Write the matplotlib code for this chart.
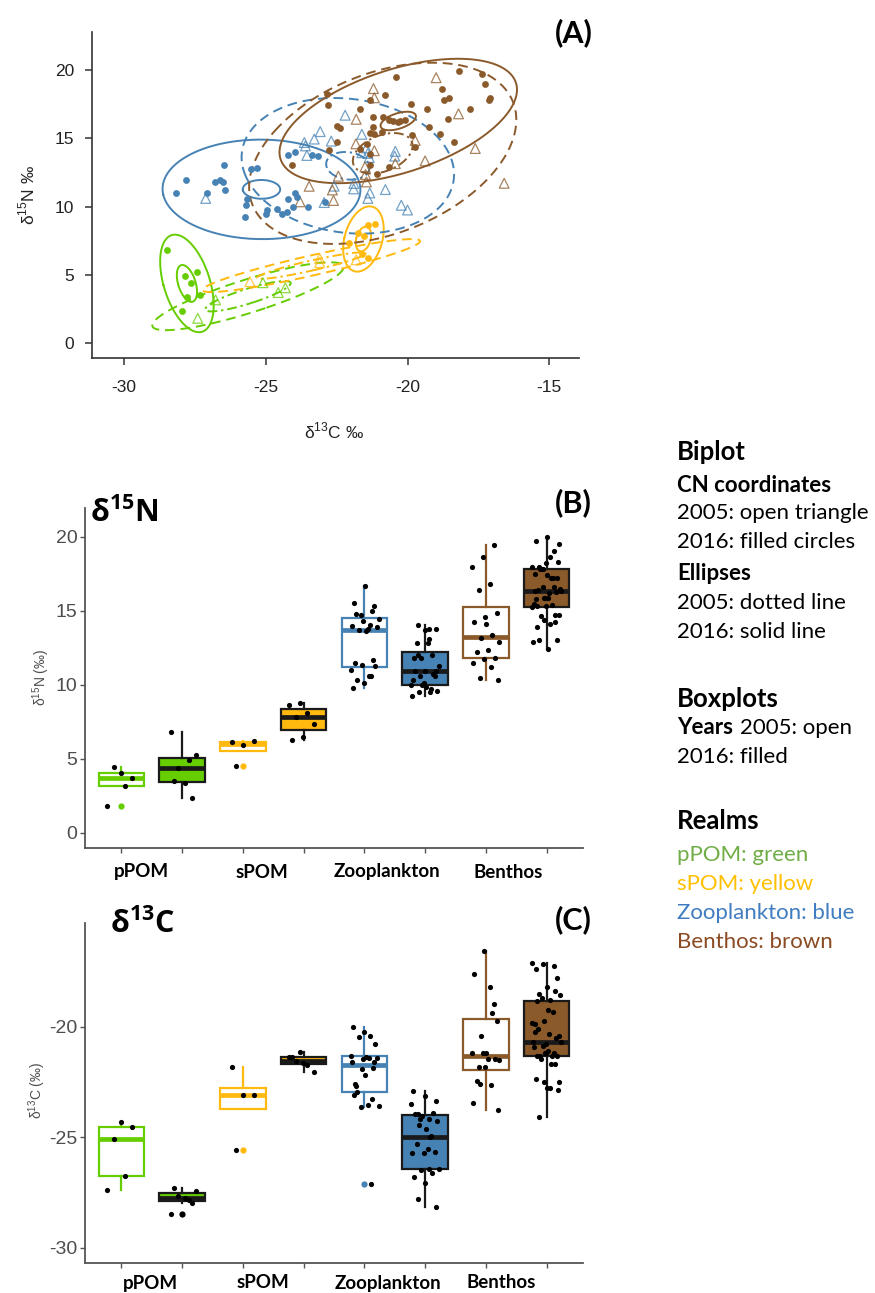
import numpy as np
import matplotlib
matplotlib.use("Agg")
import matplotlib.pyplot as plt
from matplotlib import cbook

plt.rcParams["font.family"] = ["Liberation Sans", "DejaVu Sans"]
plt.rcParams["axes.unicode_minus"] = False

# ---------------------------------------------------------------------------
# Stable isotope values (d13C, d15N) per realm and sampling year
# ---------------------------------------------------------------------------
ppom_2005_c = [-27.40, -26.77, -25.10, -24.56, -24.31]
ppom_2005_n = [1.81, 3.16, 4.42, 3.70, 4.05]

ppom_2016_c = [-28.49, -27.85, -27.65, -27.43, -27.77, -27.32, -27.96]
ppom_2016_n = [6.81, 4.93, 4.37, 5.22, 3.39, 3.51, 2.34]

spom_2005_c = [-25.56, -23.10, -23.10, -21.81]
spom_2005_n = [4.50, 6.20, 5.90, 6.10]

spom_2016_c = [-21.15, -21.38, -21.75, -21.55, -22.05, -21.62, -21.38]
spom_2016_n = [8.74, 8.63, 8.07, 7.84, 7.34, 6.49, 6.26]

zoo_2005_c = [-22.20, -23.08, -23.29, -23.64, -23.60, -23.55, -22.69, -21.61,
              -21.45, -21.61, -20.43, -20.45, -21.40, -21.35, -22.59, -21.89,
              -21.90, -21.33, -21.40, -22.94, -20.78, -20.22, -20.00, -27.12]
zoo_2005_n = [16.70, 15.50, 14.95, 14.70, 14.45, 13.75, 14.80, 15.30,
              14.30, 13.95, 14.05, 13.70, 13.90, 13.60, 11.50, 11.70,
              11.30, 11.00, 10.60, 10.30, 11.25, 10.10, 9.75, 10.60]

zoo_2016_c = [-26.46, -27.81, -28.17, -27.06, -26.79, -26.61, -26.50, -26.44,
              -25.53, -25.30, -25.65, -25.71, -25.73, -25.00, -24.44, -24.26,
              -24.61, -23.97, -23.91, -24.03, -23.50, -24.20, -23.97, -23.38,
              -23.14, -22.91, -24.95, -24.20]
zoo_2016_n = [13.08, 11.98, 10.96, 10.96, 11.81, 11.98, 11.81, 11.25,
              12.79, 12.84, 10.59, 10.10, 9.25, 9.49, 9.49, 9.61,
              9.86, 10.96, 10.71, 9.98, 9.98, 13.76, 14.01, 13.76,
              13.69, 10.35, 9.74, 10.59]

ben_2005_c = [-18.99, -21.20, -21.17, -18.20, -21.81, -19.73, -21.82, -17.61,
              -19.38, -20.43, -21.50, -21.48, -22.44, -21.45, -16.59, -23.47,
              -22.65, -22.61, -23.79, -21.17]
ben_2005_n = [19.45, 18.65, 17.98, 16.80, 16.40, 14.85, 14.60, 14.26,
              13.35, 13.15, 12.91, 12.35, 12.23, 11.81, 11.71, 11.49,
              11.22, 10.45, 10.35, 14.10]

ben_2016_c = [-20.42, -18.20, -17.38, -17.26, -17.14, -17.09, -18.80, -18.53,
              -17.79, -20.79, -19.87, -19.32, -18.70, -18.56, -19.24, -18.85,
              -18.36, -19.73, -20.67, -21.67, -21.32, -22.85, -22.79, -22.38,
              -21.20, -20.85, -20.67, -20.32, -20.08, -20.50, -21.20, -20.91,
              -21.32, -21.44, -22.49, -21.08, -21.32, -21.67, -22.49, -19.85,
              -22.77, -24.08, -21.32, -21.18, -20.25]
ben_2016_n = [19.50, 19.95, 19.74, 19.01, 17.79, 17.95, 18.65, 17.98,
              17.18, 18.20, 17.50, 17.18, 17.85, 16.45, 15.84, 15.30,
              14.74, 14.37, 12.91, 17.18, 17.79, 18.28, 17.42, 15.79,
              16.57, 16.57, 16.33, 16.20, 16.38, 16.25, 15.84, 15.47,
              15.40, 14.62, 14.74, 12.42, 13.89, 14.25, 15.88, 15.25,
              14.13, 13.03, 13.03, 15.35, 16.30]

realms = ["pPOM", "sPOM", "Zooplankton", "Benthos"]
realm_colors = {"pPOM": "#66CD00", "sPOM": "#FFB90F",
                "Zooplankton": "#4682B4", "Benthos": "#8B5A2B"}

groups = [
    ("pPOM", 2005, ppom_2005_c, ppom_2005_n),
    ("pPOM", 2016, ppom_2016_c, ppom_2016_n),
    ("sPOM", 2005, spom_2005_c, spom_2005_n),
    ("sPOM", 2016, spom_2016_c, spom_2016_n),
    ("Zooplankton", 2005, zoo_2005_c, zoo_2005_n),
    ("Zooplankton", 2016, zoo_2016_c, zoo_2016_n),
    ("Benthos", 2005, ben_2005_c, ben_2005_n),
    ("Benthos", 2016, ben_2016_c, ben_2016_n),
]

# ---------------------------------------------------------------------------
W, H = 875, 1293
fig = plt.figure(figsize=(W / 100, H / 100), dpi=100)


def rect(left, top, right, bottom):
    return [left / W, 1 - bottom / H, (right - left) / W, (bottom - top) / H]


def fx(x):
    return x / W


def fy(y):
    return 1 - y / H


K95 = np.sqrt(-2.0 * np.log(0.05))  # 95 % radius of a bivariate normal


def ellipse(xv, yv, scale, npts=240):
    xv = np.asarray(xv, float)
    yv = np.asarray(yv, float)
    cov = np.cov(xv, yv)
    vals, vecs = np.linalg.eigh(cov)
    t = np.linspace(0, 2 * np.pi, npts)
    unit = np.vstack([np.cos(t), np.sin(t)])
    pts = vecs @ (np.sqrt(np.clip(vals, 0, None))[:, None] * unit) * scale
    return xv.mean() + pts[0], yv.mean() + pts[1]


# ------------------------------- (A) biplot --------------------------------
axA = fig.add_axes(rect(92, 32, 579, 358))
for realm, year, c13, n15 in groups:
    col = realm_colors[realm]
    if year == 2005:
        axA.scatter(c13, n15, marker="^", facecolors="none", edgecolors=col,
                    s=50, linewidths=0.9, alpha=0.75, zorder=3)
        ls_big, ls_small = (0, (5, 3)), (0, (5, 2, 1.2, 2))
    else:
        axA.scatter(c13, n15, marker="o", color=col, s=24, linewidths=0,
                    zorder=4)
        ls_big = ls_small = "-"
    ex, ey = ellipse(c13, n15, K95)
    axA.plot(ex, ey, color=col, lw=1.4, ls=ls_big, zorder=2)
    ex, ey = ellipse(c13, n15, K95 / np.sqrt(len(c13)))
    axA.plot(ex, ey, color=col, lw=1.4, ls=ls_small, zorder=2)

axA.set_xlim(-31.13, -13.95)
axA.set_ylim(-1.1, 22.8)
axA.set_xticks([-30, -25, -20, -15])
axA.set_yticks([0, 5, 10, 15, 20])
for s in ("top", "right"):
    axA.spines[s].set_visible(False)
for s in ("left", "bottom"):
    axA.spines[s].set_color("#333333")
    axA.spines[s].set_linewidth(1.2)
axA.tick_params(axis="both", length=5, width=1.1, color="#333333",
                labelsize=12.5, labelcolor="#222222")
axA.tick_params(axis="x", pad=11)
axA.tick_params(axis="y", pad=8)
fig.text(fx(334), fy(431), r"δ$^{\mathdefault{13}}$C ‰", ha="center",
         va="center", fontsize=12.5, color="#222222")
fig.text(fx(27), fy(195), r"δ$^{\mathdefault{15}}$N ‰", ha="center",
         va="center", rotation=90, fontsize=12.5, color="#222222")
fig.text(fx(555), fy(33), "(A)", ha="left", va="center", fontsize=22,
         fontweight="bold", family="Lato")


# --------------------------- (B), (C) boxplots -----------------------------
def jitter(n, width=0.24, phase=0.0):
    k = np.arange(n)
    return width * (2 * ((k * 0.6180339887 + phase) % 1.0) - 1)


def box_panel(ax, which):
    for i, (realm, year, c13, n15) in enumerate(groups):
        pos = i + 1
        vals = np.asarray(n15 if which == "N" else c13, float)
        col = realm_colors[realm]
        filled = year == 2016
        edge = "#1a1a1a" if filled else col
        face = col if filled else "white"
        st = cbook.boxplot_stats(vals, whis=1.5)
        ax.bxp(st, positions=[pos], widths=0.75, patch_artist=True,
               showcaps=False, showfliers=True,
               boxprops=dict(facecolor=face, edgecolor=edge, linewidth=1.6),
               medianprops=dict(color=edge, linewidth=3.4,
                                solid_capstyle="butt"),
               whiskerprops=dict(color=edge, linewidth=1.6),
               flierprops=dict(marker="o", markerfacecolor=col if not filled
                               else "black", markeredgecolor="none",
                               markersize=4.5))
        ax.scatter(pos + jitter(len(vals), phase=0.13 * i), vals, s=14,
                   color="black", linewidths=0, zorder=5)
    ax.set_xlim(0.4, 8.6)
    ax.set_xticks(np.arange(1, 9))
    ax.set_xticklabels([])
    for s in ("top", "right"):
        ax.spines[s].set_visible(False)
    for s in ("left", "bottom"):
        ax.spines[s].set_color("#555555")
        ax.spines[s].set_linewidth(1.3)
    ax.tick_params(axis="both", length=3.5, width=1.0, color="#555555",
                   labelsize=14, labelcolor="#4D4D4D", pad=2)


axB = fig.add_axes(rect(85, 508, 583, 848))
box_panel(axB, "N")
axB.set_ylim(-1.03, 21.94)
axB.set_yticks([0, 5, 10, 15, 20])

axC = fig.add_axes(rect(85, 923, 583, 1263))
box_panel(axC, "C")
axC.set_ylim(-30.7, -15.3)
axC.set_yticks([-30, -25, -20])

fig.text(fx(41), fy(677), r"δ$^{\mathdefault{15}}$N (‰)", rotation=90,
         ha="center", va="center", fontsize=10, color="#4D4D4D")
fig.text(fx(37), fy(1090), r"δ$^{\mathdefault{13}}$C (‰)", rotation=90,
         ha="center", va="center", fontsize=10, color="#4D4D4D")

fig.text(fx(90), fy(522), r"δ$^{\mathdefault{15}}$N", ha="left",
         va="baseline", fontsize=22, fontweight="bold", family="Open Sans")
fig.text(fx(110), fy(933), r"δ$^{\mathdefault{13}}$C", ha="left",
         va="baseline", fontsize=22, fontweight="bold", family="Open Sans")
fig.text(fx(555), fy(503), "(B)", ha="left", va="center", fontsize=22,
         fontweight="bold", family="Lato")
fig.text(fx(555), fy(920), "(C)", ha="left", va="center", fontsize=22,
         fontweight="bold", family="Lato")

label_x_B = [141, 262, 387, 508]
label_x_C = [150, 263, 388, 501]
for name, xb, xc in zip(realms, label_x_B, label_x_C):
    fig.text(fx(xb), fy(872), name, ha="center", va="center", fontsize=13.5,
             fontweight="bold", family="Lato")
    fig.text(fx(xc), fy(1283), name, ha="center", va="center", fontsize=13.5,
             fontweight="bold", family="Lato")

# ------------------------------- key text ----------------------------------
LX = 677
REG, HEAD = 16, 18.5
key_lines = [
    ("Biplot", 452, HEAD, "bold", "black"),
    ("CN coordinates", 485, REG, "bold", "black"),
    ("2005: open triangle", 513, REG, "normal", "black"),
    ("2016: filled circles", 542, REG, "normal", "black"),
    ("Ellipses", 573, REG, "bold", "black"),
    ("2005: dotted line", 603, REG, "normal", "black"),
    ("2016: solid line", 632, REG, "normal", "black"),
    ("Boxplots", 699, HEAD, "bold", "black"),
    ("2016: filled", 757, REG, "normal", "black"),
    ("Realms", 821, HEAD, "bold", "black"),
    ("pPOM: green", 855, REG, "normal", "#70AD47"),
    ("sPOM: yellow", 884, REG, "normal", "#FFC000"),
    ("Zooplankton: blue", 913, REG, "normal", "#3F7DC0"),
    ("Benthos: brown", 942, REG, "normal", "#8A4B22"),
]
for txt, y, size, weight, col in key_lines:
    fig.text(fx(LX), fy(y), txt, ha="left", va="center", fontsize=size,
             fontweight=weight, color=col, family="Lato")
fig.text(fx(LX), fy(728), "Years", ha="left", va="center", fontsize=REG,
         fontweight="bold", family="Lato")
fig.text(fx(740), fy(728), "2005: open", ha="left", va="center",
         fontsize=REG, family="Lato")

fig.savefig("out.png", dpi=100)
